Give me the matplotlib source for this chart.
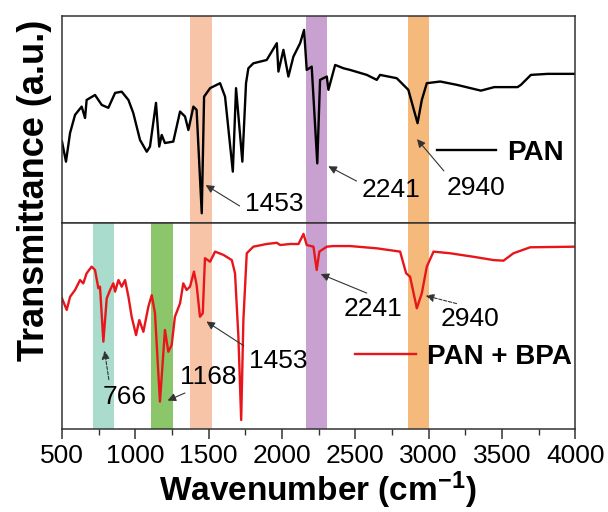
import numpy as np
import matplotlib.pyplot as plt

plt.rcParams['font.family'] = ['Liberation Sans', 'DejaVu Sans']
plt.rcParams['mathtext.fontset'] = 'custom'
plt.rcParams['mathtext.bf'] = 'Liberation Sans:bold'
plt.rcParams['mathtext.default'] = 'bf'

# PAN spectrum (wavenumber cm-1, transmittance a.u.)
pan_wn = [500, 527, 555, 589, 634, 657, 668, 725, 771, 816, 862, 907, 953, 986,
          1032, 1078, 1100, 1141, 1163, 1180, 1202, 1259, 1305, 1339, 1362, 1396,
          1418, 1453, 1469, 1510, 1578, 1612, 1665, 1687, 1730, 1755, 1771, 1805,
          1896, 1965, 1976, 2010, 2044, 2078, 2124, 2151, 2169, 2203, 2241, 2260,
          2306, 2317, 2363, 2420, 2465, 2579, 2647, 2669, 2783, 2828, 2862, 2925,
          2954, 2988, 3080, 3193, 3357, 3448, 3562, 3607, 3630, 3698, 3812, 4000]
pan_t = [39.3, 29.6, 43.5, 52.2, 56.2, 50.7, 59.4, 61.8, 57.0, 55.6, 62.8, 63.4, 59.4, 53.1,
         40.1, 34.4, 36.9, 58.0, 36.9, 42.5, 38.6, 39.3, 53.8, 51.4, 44.9, 56.2,
         54.6, 4.7, 61.0, 65.1, 67.5, 61.0, 24.8, 65.1, 29.6, 67.5, 74.7, 77.1,
         78.7, 86.8, 73.1, 83.6, 70.7, 80.3, 86.8, 93.2, 73.9, 75.5, 28.8, 69.1,
         70.7, 64.3, 76.3, 74.7, 73.9, 71.5, 69.1, 71.5, 69.9, 66.7, 64.3, 48.2,
         59.4, 67.5, 68.3, 66.7, 63.9, 65.6, 65.6, 65.6, 66.7, 71.5, 72.0, 72.0]

# PAN + BPA spectrum
bpa_wn = [500, 532, 555, 589, 623, 645, 668, 702, 725, 748, 759, 782, 805, 828,
          850, 862, 885, 907, 930, 953, 975, 1005, 1027, 1055, 1089, 1112, 1134,
          1168, 1202, 1225, 1248, 1270, 1305, 1327, 1350, 1373, 1400, 1418, 1441,
          1460, 1475, 1510, 1544, 1601, 1658, 1680, 1703, 1722, 1737, 1760, 1805,
          1896, 1965, 1988, 2056, 2113, 2147, 2169, 2215, 2237, 2255, 2306, 2351,
          2465, 2647, 2806, 2847, 2874, 2920, 2954, 2988, 3034, 3147, 3306, 3443,
          3511, 3579, 3693, 4000]
bpa_t = [63.4, 57.8, 64.2, 67.5, 72.3, 70.7, 75.6, 78.8, 77.2, 68.3, 69.1, 42.4, 63.4, 67.5,
         70.7, 66.7, 72.3, 69.1, 72.3, 64.2, 54.5, 45.6, 52.9, 47.2, 59.4, 65.0, 56.2,
         13.3, 48.1, 37.5, 40.8, 54.5, 61.0, 70.7, 67.5, 69.1, 76.4, 69.9, 54.5,
         56.2, 82.9, 81.2, 86.1, 84.5, 82.0, 75.6, 44.8, 4.4, 52.9, 85.3, 88.5,
         89.8, 90.4, 89.3, 89.8, 89.8, 94.7, 89.3, 88.5, 77.2, 86.1, 88.5, 88.8,
         88.8, 87.7, 86.1, 75.6, 73.9, 58.6, 65.9, 78.8, 86.1, 85.3, 83.6, 82.0,
         81.7, 85.3, 88.2, 88.5]

# highlighted bands (start, end, colour, shown in top panel)
band_lo = [710, 1110, 1375, 2165, 2858]
band_hi = [855, 1255, 1522, 2308, 3005]
band_col = ['#a9dccd', '#8cc66b', '#f7c4a8', '#c9a1d0', '#f5b97c']
band_top = [False, False, True, True, True]

fig = plt.figure(figsize=(6.08, 5.12), dpi=100)
ax1 = fig.add_axes([0.102, 0.5645, 0.844, 0.4045])
ax2 = fig.add_axes([0.102, 0.162, 0.844, 0.4025])

for lo, hi, c, top in zip(band_lo, band_hi, band_col, band_top):
    ax2.axvspan(lo, hi, color=c, lw=0, zorder=0)
    if top:
        ax1.axvspan(lo, hi, color=c, lw=0, zorder=0)

ax1.plot(pan_wn, pan_t, color='black', lw=1.7, label='PAN', zorder=2)
ax2.plot(bpa_wn, bpa_t, color='#e8161b', lw=1.7, label='PAN + BPA', zorder=2)

for ax in (ax1, ax2):
    ax.set_xlim(500, 4000)
    ax.set_ylim(0, 100)
    ax.set_yticks([])
    for s in ax.spines.values():
        s.set_color('#333333')
        s.set_linewidth(1.1)

ax1.set_xticks([])
ax2.set_xticks(np.arange(500, 4001, 500))
ax2.set_xticks(np.arange(750, 4000, 500), minor=True)
ax2.tick_params(axis='x', which='major', direction='out', length=7, width=1.1,
                color='#333333', labelsize=19, pad=4)
ax2.tick_params(axis='x', which='minor', direction='out', length=4, width=1.0,
                color='#333333')

arrow = dict(arrowstyle='-|>', color='#333333', lw=0.8, mutation_scale=12)
arrow_dash = dict(arrowstyle='-|>', color='#333333', lw=0.8, mutation_scale=12,
                  linestyle=(0, (3, 1.5)))

def note(ax, label, xy, xytext, relpos, props):
    p = dict(props)
    p['relpos'] = relpos
    ax.annotate(label, xy=xy, xytext=xytext, fontsize=19, ha='center', va='center',
                arrowprops=p, zorder=3)

note(ax1, '1453', (1464, 19), (1946, 9), (0, 0.3), arrow)
note(ax1, '2241', (2300, 28), (2745, 16), (0, 0.75), arrow)
note(ax1, '2940', (2909, 41.5), (3325, 17), (0.02, 1), arrow)

note(ax2, '766', (787, 39.3), (930, 15.5), (0.15, 1), arrow_dash)
note(ax2, '1168', (1203, 13.3), (1496, 25.2), (0.25, 0), arrow)
note(ax2, '1453', (1469, 52.9), (1974, 33), (0, 1), arrow)
note(ax2, '2241', (2247, 75.7), (2622, 58.3), (0.55, 1), arrow)
note(ax2, '2940', (2963, 65), (3284, 53.4), (0.5, 1), arrow_dash)

leg_font = dict(size=20, weight='bold')
ax1.legend(loc='center left', bbox_to_anchor=(0.73, 0.338), frameon=False,
           prop=leg_font, handlelength=2.15, handletextpad=0.4,
           borderpad=0, borderaxespad=0)
ax2.legend(loc='center left', bbox_to_anchor=(0.571, 0.351), frameon=False,
           prop=leg_font, handlelength=2.2, handletextpad=0.4,
           borderpad=0, borderaxespad=0)

fig.text(0.523, 0.043, r'Wavenumber (cm$^{-1}$)', fontsize=24, fontweight='bold',
         ha='center', va='center')
fig.text(0.056, 0.629, 'Transmittance (a.u.)', fontsize=26, fontweight='bold',
         rotation=90, ha='center', va='center')

fig.savefig('out.png', dpi=100)
